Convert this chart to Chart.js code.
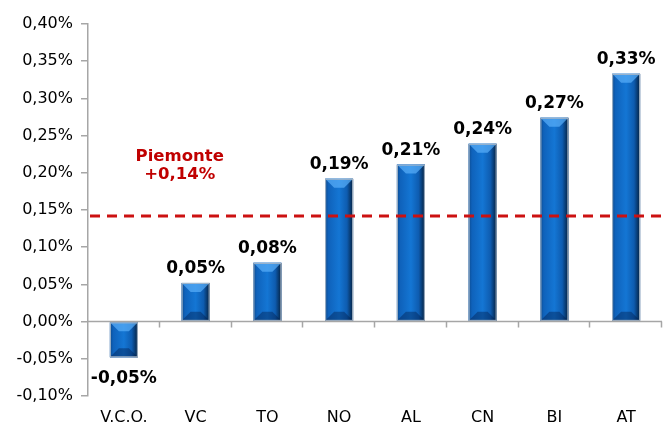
<!DOCTYPE html>
<html>
<head>
<meta charset="utf-8">
<script src="https://cdn.jsdelivr.net/npm/chart.js@4/dist/chart.umd.min.js"></script>
<style>
  body { margin: 0; background: #fff; }
  canvas { display: block; }
</style>
</head>
<body>
<canvas id="chart" width="663" height="423"></canvas>
<script>
const categories = ['V.C.O.', 'VC', 'TO', 'NO', 'AL', 'CN', 'BI', 'AT']
const values = [-0.048, 0.052, 0.079, 0.192, 0.211, 0.239, 0.274, 0.333]
const valueLabels = ['-0,05%', '0,05%', '0,08%', '0,19%', '0,21%', '0,24%', '0,27%', '0,33%']
const piemonte = 0.142
const piemonteLabel = ['Piemonte', '+0,14%']

const fmt = v => v.toFixed(2).replace('.', ',') + '%'

// gradient overlay so the bars look like the bevelled 3d bars of the original
const bevelBars = {
  id: 'bevelBars',
  afterDatasetsDraw(chart) {
    const ctx = chart.ctx
    chart.getDatasetMeta(0).data.forEach(bar => {
      const { x, y, base, width } = bar.getProps(['x', 'y', 'base', 'width'], true)
      const left = x - width / 2
      const top = Math.min(y, base)
      const h = Math.abs(base - y)
      const g = ctx.createLinearGradient(left, 0, left + width, 0)
      g.addColorStop(0, '#0c4a8e')
      g.addColorStop(0.12, '#0f62bb')
      g.addColorStop(0.5, '#1476d4')
      g.addColorStop(0.78, '#0e5cb0')
      g.addColorStop(1, '#04203f')
      ctx.save()
      ctx.fillStyle = g
      ctx.fillRect(left, top, width, h)
      // top bevel
      const b = Math.min(9, h / 3)
      ctx.fillStyle = 'rgba(90,175,250,0.7)'
      ctx.beginPath()
      ctx.moveTo(left, top)
      ctx.lineTo(left + width, top)
      ctx.lineTo(left + width - b, top + b)
      ctx.lineTo(left + b, top + b)
      ctx.closePath()
      ctx.fill()
      // bottom bevel
      ctx.fillStyle = 'rgba(0,25,70,0.4)'
      ctx.beginPath()
      ctx.moveTo(left, top + h)
      ctx.lineTo(left + width, top + h)
      ctx.lineTo(left + width - b, top + h - b)
      ctx.lineTo(left + b, top + h - b)
      ctx.closePath()
      ctx.fill()
      ctx.strokeStyle = '#a9b8c8'
      ctx.lineWidth = 1
      ctx.strokeRect(left + 0.5, top + 0.5, width - 1, h - 1)
      ctx.restore()
    })
  }
}

const extras = {
  id: 'extras',
  afterDraw(chart) {
    const ctx = chart.ctx
    const xs = chart.scales.x
    const ys = chart.scales.y
    const area = chart.chartArea
    const zero = ys.getPixelForValue(0)

    // horizontal axis at zero with tick marks between categories
    ctx.save()
    ctx.strokeStyle = '#a6a6a6'
    ctx.lineWidth = 1.5
    ctx.beginPath()
    ctx.moveTo(area.left, zero)
    ctx.lineTo(area.right, zero)
    for (let i = 1; i <= categories.length; i++) {
      const px = Math.round(area.left + (area.right - area.left) * i / categories.length) - 0.5
      ctx.moveTo(px, zero)
      ctx.lineTo(px, zero + 6)
    }
    ctx.stroke()

    // piemonte average line
    const py = ys.getPixelForValue(piemonte)
    ctx.strokeStyle = '#cc1111'
    ctx.lineWidth = 3
    ctx.setLineDash([10, 7])
    ctx.beginPath()
    ctx.moveTo(area.left + 2, py)
    ctx.lineTo(area.right, py)
    ctx.stroke()
    ctx.setLineDash([])

    ctx.fillStyle = '#c00000'
    ctx.font = 'bold 16.5px "DejaVu Sans"'
    ctx.textAlign = 'center'
    ctx.textBaseline = 'middle'
    const lx = (xs.getPixelForValue(0) + xs.getPixelForValue(1)) / 2 + 20
    ctx.fillText(piemonteLabel[0], lx, py - 59)
    ctx.fillText(piemonteLabel[1], lx, py - 41)

    // value labels
    ctx.fillStyle = '#000'
    ctx.font = 'bold 17px "DejaVu Sans"'
    chart.getDatasetMeta(0).data.forEach((bar, i) => {
      const { x, y } = bar.getProps(['x', 'y'], true)
      if (values[i] >= 0) {
        ctx.textBaseline = 'bottom'
        ctx.fillText(valueLabels[i], x, y - 6)
      } else {
        ctx.textBaseline = 'top'
        ctx.fillText(valueLabels[i], x, y + 13)
      }
    })
    ctx.restore()
  }
}

new Chart(document.getElementById('chart'), {
  type: 'bar',
  data: {
    labels: categories,
    datasets: [{
      data: values,
      backgroundColor: '#1565c0',
      borderWidth: 0,
      categoryPercentage: 1,
      barPercentage: 0.39,
    }],
  },
  options: {
    responsive: false,
    animation: false,
    layout: { padding: { top: 24, right: 1, bottom: 0, left: 0 } },
    plugins: {
      legend: { display: false },
      tooltip: { enabled: false },
    },
    scales: {
      x: {
        afterFit(scale) { scale.height = 27 },
        grid: { display: false, drawTicks: false },
        border: { display: false },
        ticks: {
          color: '#000',
          font: { family: 'DejaVu Sans', size: 16 },
          padding: 12,
        },
      },
      y: {
        min: -0.1,
        max: 0.4,
        afterFit(scale) { scale.width = 88 },
        ticks: {
          stepSize: 0.05,
          color: '#000',
          font: { family: 'DejaVu Sans', size: 16 },
          padding: 8,
          callback: v => fmt(v),
        },
        grid: { drawOnChartArea: false, color: '#a6a6a6', tickLength: 7, lineWidth: 1.5 },
        border: { color: '#a6a6a6', width: 1.5 },
      },
    },
  },
  plugins: [bevelBars, extras],
})
</script>
</body>
</html>
